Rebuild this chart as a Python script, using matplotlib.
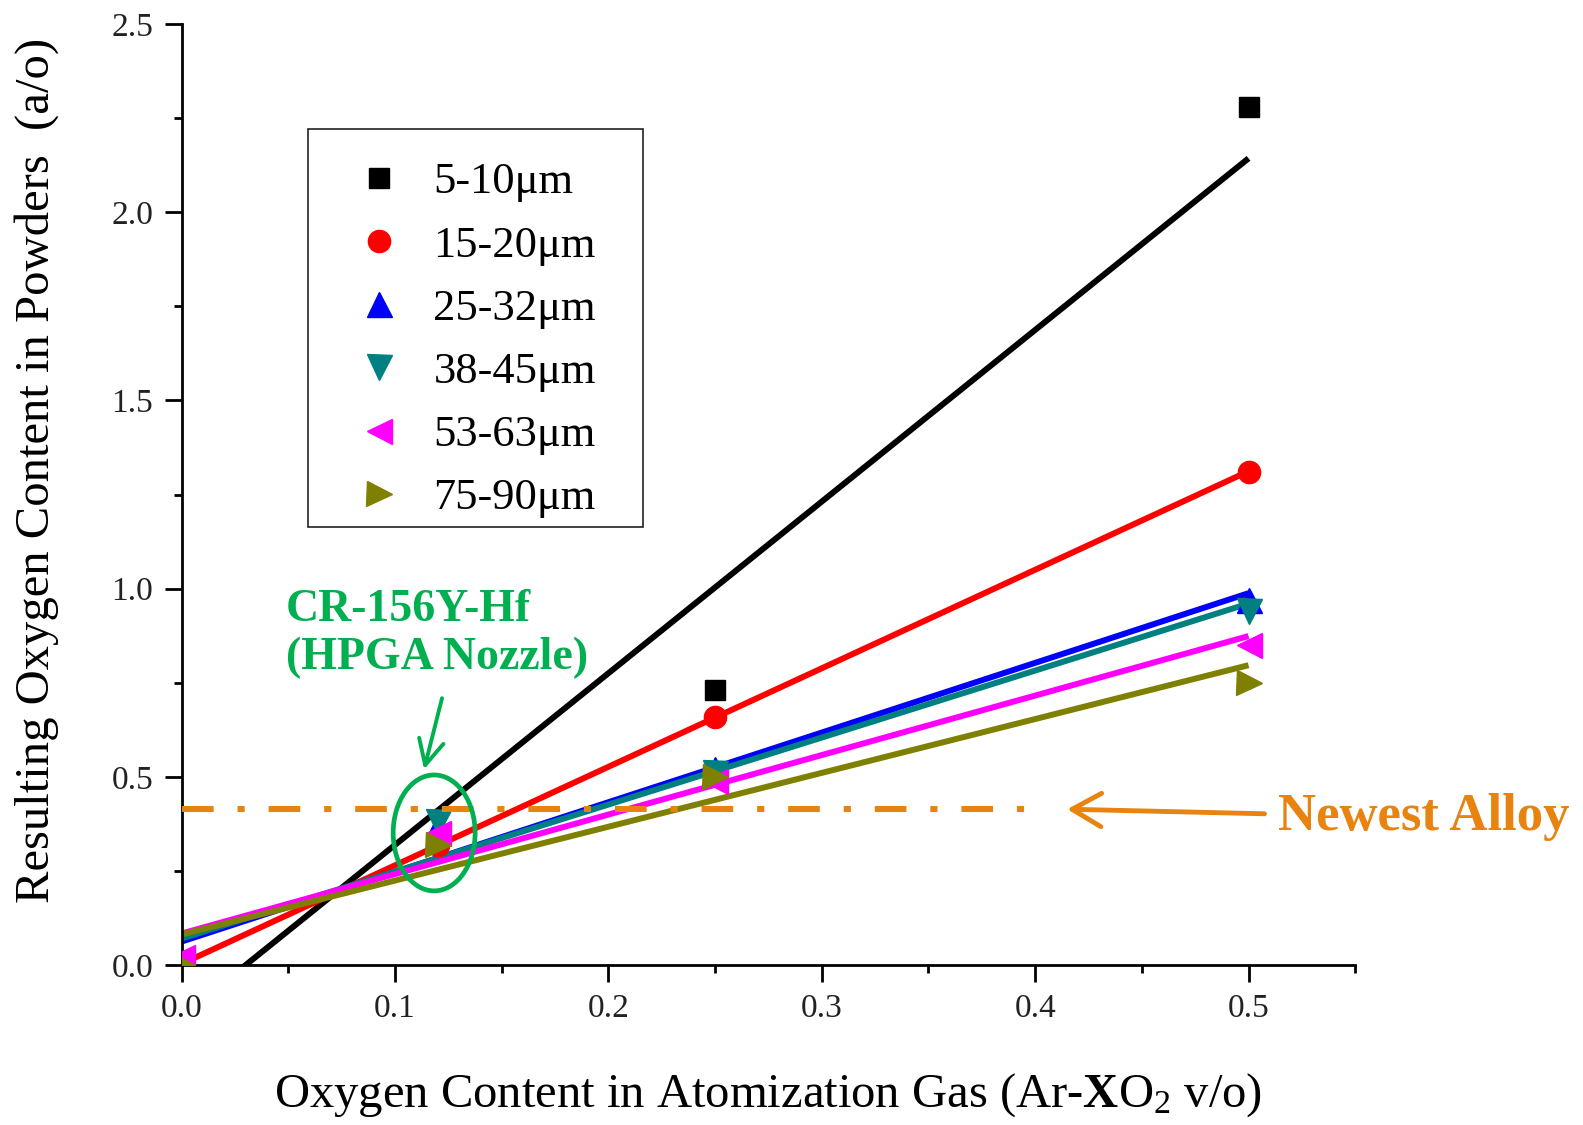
import numpy as np
import matplotlib
matplotlib.use("Agg")
import matplotlib.pyplot as plt
from matplotlib.patches import Ellipse, Rectangle
from matplotlib.ticker import FixedLocator

plt.rcParams['font.family'] = ['Liberation Serif', 'DejaVu Serif']
plt.rcParams['mathtext.fontset'] = 'custom'
plt.rcParams['mathtext.rm'] = 'Liberation Serif'
plt.rcParams['mathtext.it'] = 'Liberation Serif:italic'
plt.rcParams['mathtext.bf'] = 'Liberation Serif:bold'

# O2 in atomization gas (v/o) and measured oxygen in powder (a/o)
x_o2 = [0.0, 0.12, 0.25, 0.5]
x_o2_fine = [0.0, 0.25, 0.5]          # 5-10um has no 0.12 sample
o_5_10 = [0.0, 0.73, 2.28]
o_15_20 = [0.0, 0.32, 0.66, 1.31]
o_25_32 = [0.0, 0.37, 0.52, 0.97]
o_38_45 = [0.0, 0.38, 0.51, 0.94]
o_53_63 = [0.02, 0.35, 0.49, 0.85]
o_75_90 = [0.0, 0.32, 0.50, 0.75]

labels = ['5-10μm', '15-20μm', '25-32μm', '38-45μm', '53-63μm', '75-90μm']
newest_alloy = 0.414
hpga_point = (0.1183, 0.351)

series = [
    (x_o2_fine, o_5_10, 's', 'black', 14),
    (x_o2, o_15_20, 'o', '#ff0000', 16),
    (x_o2, o_25_32, '^', '#0000ff', 18),
    (x_o2, o_38_45, 'v', '#008080', 18),
    (x_o2, o_53_63, '<', '#ff00ff', 18),
    (x_o2, o_75_90, '>', '#808000', 18),
]

green = '#00b050'
orange = '#e8830f'

fig = plt.figure(figsize=(15.83, 11.25), dpi=100)
ax = fig.add_axes([0.1148, 0.1422, 0.7413, 0.8364])

handles = []
for (xs, ys, mk, col, ms), lab in zip(series, labels):
    xs = np.array(xs)
    ys = np.array(ys)
    # linear least-squares fit over 0..0.5
    k, b = np.polyfit(xs, ys, 1)
    xf = np.array([0.0, 0.5])
    ax.plot(xf, k * xf + b, '-', color=col, lw=4.3, zorder=2,
            solid_capstyle='butt')
    h, = ax.plot(xs, ys, mk, color=col, ms=ms, mec=col, ls='none',
                 zorder=3, label=lab)
    handles.append(h)

# newest alloy level
ax.plot([0.0, 0.405], [newest_alloy, newest_alloy], color=orange, lw=4.3,
        dashes=(5.3, 4.0, 1.2, 4.0), dash_capstyle='butt', zorder=5)
ax.annotate('Newest Alloy', xy=(0.415, newest_alloy), xytext=(0.514, 0.392),
            ha='left', va='center', fontsize=38, fontweight='bold',
            color=orange, annotation_clip=False,
            arrowprops=dict(arrowstyle='->,head_length=0.7,head_width=0.4',
                            color=orange, lw=3.5, mutation_scale=30,
                            shrinkA=8, shrinkB=0))

# CR-156Y-Hf point circled
ax.add_patch(Ellipse(hpga_point, 0.0384, 0.308, fill=False, ec=green,
                     lw=3.4, zorder=6))
ax.annotate('', xy=(0.1136, 0.52), xytext=(0.122, 0.709),
            arrowprops=dict(arrowstyle='->,head_length=0.6,head_width=0.3',
                            color=green, lw=2.8, mutation_scale=30,
                            shrinkA=0, shrinkB=0))
ax.text(0.0488, 1.0, 'CR-156Y-Hf\n(HPGA Nozzle)', ha='left', va='top',
        fontsize=33, fontweight='bold', color=green, linespacing=1.2)

ax.set_xlim(0, 0.55)
ax.set_ylim(0, 2.5)
ax.xaxis.set_major_locator(FixedLocator([0.0, 0.1, 0.2, 0.3, 0.4, 0.5]))
ax.xaxis.set_minor_locator(FixedLocator([0.05, 0.15, 0.25, 0.35, 0.45, 0.55]))
ax.yaxis.set_major_locator(FixedLocator([0.0, 0.5, 1.0, 1.5, 2.0, 2.5]))
ax.yaxis.set_minor_locator(FixedLocator([0.25, 0.75, 1.25, 1.75, 2.25]))
ax.set_xticklabels(['0.0', '0.1', '0.2', '0.3', '0.4', '0.5'])
ax.set_yticklabels(['0.0', '0.5', '1.0', '1.5', '2.0', '2.5'])

for side in ('top', 'right'):
    ax.spines[side].set_visible(False)
for side in ('left', 'bottom'):
    ax.spines[side].set_linewidth(2)

ax.tick_params(which='major', direction='out', length=12.5, width=2,
               labelsize=24, pad=8, labelcolor='#222222')
ax.tick_params(which='minor', direction='out', length=6, width=2)

ax.set_xlabel(r'Oxygen Content in Atomization Gas (Ar-$\mathbf{X}$O$_2$ v/o)',
              fontsize=35, va='center')
ax.xaxis.set_label_coords(0.5, -0.138)
ax.set_ylabel('Resulting Oxygen Content in Powders  (a/o)', fontsize=35,
              va='center')
ax.yaxis.set_label_coords(-0.1233, 0.526)

# legend entries without frame; the box is drawn separately so the
# entries can sit lower inside it
ax.legend(handles=handles, loc='upper left',
          bbox_to_anchor=(0.1076, 0.8735), borderaxespad=0,
          fontsize=32, frameon=False,
          borderpad=0.43, handlelength=2.34, handletextpad=0.05,
          labelspacing=0.52, numpoints=1)
ax.add_patch(Rectangle((0.1076, 0.4655), 0.2856, 0.4229,
                       transform=ax.transAxes, fill=False, ec='#222222',
                       lw=1.2, zorder=7))

fig.savefig('out.png', dpi=100)
